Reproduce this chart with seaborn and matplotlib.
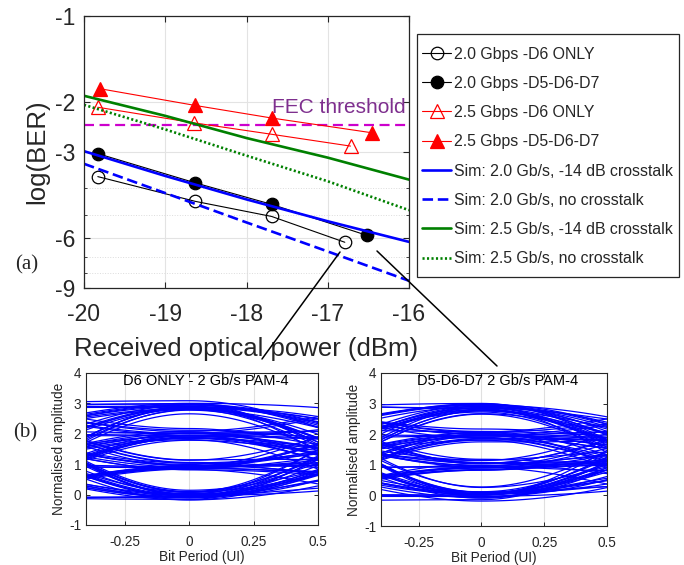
import numpy as np
import pandas as pd
import matplotlib
matplotlib.use("Agg")
import matplotlib.pyplot as plt
from matplotlib.lines import Line2D
from matplotlib.patches import Rectangle
import seaborn as sns

# ---------------- measured BER (log10) ----------------
x_d6_20 = [-19.83, -18.63, -17.69, -16.79]
y_d6_20 = [-3.66, -4.47, -5.05, -6.22]
x_d567_20 = [-19.83, -18.63, -17.69, -16.52]
y_d567_20 = [-3.04, -3.85, -4.58, -5.88]
x_d6_25 = [-19.83, -18.65, -17.69, -16.72]
y_d6_25 = [-2.09, -2.37, -2.60, -2.86]
x_d567_25 = [-19.80, -18.63, -17.69, -16.45]
y_d567_25 = [-1.80, -2.06, -2.28, -2.57]

# ---------------- simulated BER (log10) ----------------
sim_power = [-20, -19, -18, -17, -16]
sim_20_xt = [-2.98, -3.64, -4.40, -5.25, -6.20]
sim_20_noxt = [-3.30, -4.18, -5.30, -6.70, -8.49]
sim_25_xt = [-1.905, -2.24, -2.68, -3.14, -3.75]
sim_25_noxt = [-2.05, -2.50, -3.09, -3.80, -4.80]

fec_threshold = -2.42

ber_ticks = [-1, -2, -3, -6, -9]
ber_minor = [-4, -5, -7, -8]
power_ticks = [-20, -19, -18, -17, -16]

legend_labels = ["2.0 Gbps -D6 ONLY", "2.0 Gbps -D5-D6-D7",
                 "2.5 Gbps -D6 ONLY", "2.5 Gbps -D5-D6-D7",
                 "Sim: 2.0 Gb/s, -14 dB crosstalk", "Sim: 2.0 Gb/s, no crosstalk",
                 "Sim: 2.5 Gb/s, -14 dB crosstalk", "Sim: 2.5 Gb/s, no crosstalk"]

# ---------------- PAM-4 symbol streams for the eye diagrams ----------------
seq_d6 = [3, 0, 1, 2, 2, 0, 1, 3, 3, 0, 2, 1, 0, 0, 3, 2, 1, 1, 3, 0, 2, 3, 0, 1,
          2, 0, 3, 3, 1, 0, 1, 2, 3, 1, 0, 2, 2, 3, 0, 0, 1, 3, 2, 0, 1, 1, 2, 3,
          3, 2, 0, 3, 1, 1, 0, 2, 0, 3, 2, 2, 1, 0, 3, 0, 1, 2, 1, 3, 0, 2, 3, 3,
          0, 1, 0, 2, 1, 2, 0, 0, 2, 3, 1, 3, 2, 1, 0, 3, 3, 1, 2, 0, 2, 1, 1, 0]
seq_d567 = [1, 3, 0, 2, 0, 1, 3, 2, 2, 1, 0, 3, 1, 0, 2, 3, 3, 0, 0, 1, 2, 1, 3, 0,
            2, 2, 0, 1, 3, 1, 2, 0, 3, 0, 1, 1, 2, 3, 2, 0, 0, 3, 1, 2, 1, 0, 3, 3,
            0, 2, 1, 3, 2, 0, 1, 0, 2, 2, 3, 1, 0, 1, 3, 0, 3, 2, 1, 2, 0, 0, 2, 1,
            3, 3, 1, 0, 2, 3, 0, 1, 1, 2, 0, 3, 2, 1, 3, 0, 1, 0, 0, 2, 3, 2, 1, 3]
levels_d6 = [-0.08, 0.95, 2.0, 2.93]
levels_d567 = [0.0, 1.0, 1.98, 2.93]
# ISI taps: (2nd pre, 1st pre, 1st post, 2nd post)
taps_d6 = (0.035, 0.075, 0.055, 0.03)
taps_d567 = (0.035, 0.07, 0.055, 0.03)

TEXT = "#262626"
BLUE = "#0000FF"
GREEN = "#008000"
RED = "#FF0000"

plt.rcParams["axes.unicode_minus"] = False
sns.set_style("ticks")
plt.rcParams["font.family"] = ["Liberation Sans", "DejaVu Sans"]


def fwd(y):
    return -np.log10(np.clip(-np.asarray(y, dtype=float), 1e-6, None))


def inv(z):
    return -np.power(10.0, -np.asarray(z, dtype=float))


fig = plt.figure(figsize=(6.84, 5.65), dpi=100)
W, H = 684, 565


def rect(l, t, r, b):
    return [l / W, 1 - b / H, (r - l) / W, (b - t) / H]


ax = fig.add_axes(rect(84, 16, 409, 288))
ax.set_yscale("function", functions=(fwd, inv))

handles = []
meas = [
    (x_d6_20, y_d6_20, dict(color="k", marker="o", mfc="none", mec="k", ms=9)),
    (x_d567_20, y_d567_20, dict(color="k", marker="o", mfc="k", mec="k", ms=9)),
    (x_d6_25, y_d6_25, dict(color=RED, marker="^", mfc="none", mec=RED, ms=10)),
    (x_d567_25, y_d567_25, dict(color=RED, marker="^", mfc=RED, mec=RED, ms=10)),
]
for xs, ys, st in meas:
    sns.lineplot(x=xs, y=ys, ax=ax, lw=0.8, mew=0.9, sort=False, **st)
    handles.append(ax.lines[-1])

sims = [
    (sim_20_xt, dict(color=BLUE, lw=1.9, ls="-")),
    (sim_20_noxt, dict(color=BLUE, lw=1.9, dashes=(4, 1.8))),
    (sim_25_xt, dict(color=GREEN, lw=1.9, ls="-")),
    (sim_25_noxt, dict(color=GREEN, lw=1.9, dashes=(0.8, 0.9))),
]
for ys, st in sims:
    sns.lineplot(x=sim_power, y=ys, ax=ax, **st)
    handles.append(ax.lines[-1])

ax.axhline(fec_threshold, color="#CC00CC", lw=1.6, dashes=(4.5, 2.5), zorder=1.5)
ax.text(-16.04, -2.09, "FEC threshold", color="#7E2F8E", fontsize=15,
        ha="right", va="center")

ax.set_xlim(-20, -16)
ax.set_ylim(-9, -1)
ax.set_xticks(power_ticks)
ax.set_xticklabels([str(v) for v in power_ticks])
ax.set_yticks(ber_ticks)
ax.set_yticklabels([str(v) for v in ber_ticks])
ax.set_yticks(ber_minor, minor=True)
ax.set_yticklabels([], minor=True)
ax.grid(True, which="major", color="#e3e3e3", lw=0.8)
ax.grid(True, which="minor", axis="y", color="#dcdcdc", lw=0.7, ls=":")
ax.set_axisbelow(True)
ax.tick_params(axis="both", which="major", direction="in", length=4,
               labelsize=16.5, colors=TEXT, top=True, right=True, width=0.8)
ax.tick_params(axis="x", which="major", pad=11)
ax.tick_params(axis="y", which="major", pad=6)
ax.tick_params(axis="y", which="minor", direction="in", length=2.5,
               right=True, left=True, colors=TEXT)
for sp in ax.spines.values():
    sp.set_color(TEXT)
    sp.set_linewidth(0.9)
ax.set_xlabel("Received optical power (dBm)", fontsize=18.5, color=TEXT, labelpad=8)
ax.set_ylabel("log(BER)", fontsize=18.5, color=TEXT, labelpad=4)
if ax.get_legend() is not None:
    ax.get_legend().remove()

# legend box drawn as a fixed frame, entries placed inside it
fig.add_artist(Rectangle((417 / W, 1 - 277 / H), (679 - 417) / W, (277 - 34) / H,
                         transform=fig.transFigure, facecolor="white",
                         edgecolor=TEXT, lw=0.9, zorder=2))
leg = fig.legend(handles, legend_labels, loc="upper left",
                 bbox_to_anchor=(422 / W, 1 - 46.5 / H), fontsize=11.4,
                 frameon=False, handlelength=1.85, handletextpad=0.2,
                 labelspacing=0.9, borderpad=0, borderaxespad=0)
leg.set_zorder(3)

fig.text(26.5 / W, 1 - 265 / H, "(a)", fontsize=15, family="Liberation Serif",
         ha="center", va="center", color=TEXT)
fig.text(25 / W, 1 - 433 / H, "(b)", fontsize=15, family="Liberation Serif",
         ha="center", va="center", color=TEXT)

# zoom connectors from the measured points to the eye diagrams
fig.add_artist(Line2D([340 / W, 262 / W], [1 - 252 / H, 1 - 359 / H],
                      color="k", lw=1.1))
fig.add_artist(Line2D([377 / W, 497 / W], [1 - 251 / H, 1 - 366 / H],
                      color="k", lw=1.1))


def eye_frame(seq, levels, taps, xt, xt_gain):
    sym = np.array(seq, dtype=float)
    c = sym - 1.5
    samp = np.array([levels[s] for s in seq], dtype=float)
    pre2, pre1, post1, post2 = taps
    samp[2:] += pre2 * c[:-2]
    samp[1:] += pre1 * c[:-1]
    samp[:-1] += post1 * c[1:]
    samp[:-2] += post2 * c[2:]
    samp += xt_gain * (np.array(xt, dtype=float) - 1.5)
    t = np.linspace(-0.4, 0.5, 61)
    rows = []
    for k in range(1, len(seq) - 2):
        a, b, n, nn = samp[k - 1], samp[k], samp[k + 1], samp[k + 2]
        left = a + (b - a) * (1 - np.cos(np.pi * (t + 1))) / 2
        right = b + (n - b) * (1 - np.cos(np.pi * t)) / 2 + 0.8 * (nn - n) * t ** 2
        amp = np.where(t < 0, left, right)
        rows.append(pd.DataFrame({"t": t, "amp": amp, "trace": k}))
    return pd.concat(rows, ignore_index=True)


eyes = [
    (rect(86, 373, 318, 525),
     eye_frame(seq_d6, levels_d6, taps_d6, seq_d567[::-1], 0.03),
     "D6 ONLY - 2 Gb/s PAM-4"),
    (rect(381, 373, 607, 526),
     eye_frame(seq_d567, levels_d567, taps_d567, seq_d6[::-1], 0.06),
     "D5-D6-D7 2 Gb/s PAM-4"),
]
for pos, df, title in eyes:
    ex = fig.add_axes(pos)
    sns.lineplot(data=df, x="t", y="amp", units="trace", estimator=None,
                 color=BLUE, lw=0.9, ax=ex, legend=False)
    ex.set_xlim(-0.4, 0.5)
    ex.set_ylim(-1, 4)
    ex.set_xticks([-0.25, 0, 0.25, 0.5])
    ex.set_xticklabels(["-0.25", "0", "0.25", "0.5"])
    ex.set_yticks([-1, 0, 1, 2, 3, 4])
    ex.set_yticklabels(["-1", "0", "1", "2", "3", "4"])
    ex.grid(True, axis="x", color="#e0e0e0", lw=0.8)
    ex.set_axisbelow(True)
    ex.tick_params(direction="in", length=3, labelsize=9.8, colors=TEXT,
                   top=True, right=True, width=0.7)
    ex.tick_params(axis="x", pad=7)
    for sp in ex.spines.values():
        sp.set_color(TEXT)
        sp.set_linewidth(0.8)
    ex.set_xlabel("Bit Period (UI)", fontsize=9.8, color=TEXT, labelpad=1)
    ex.set_ylabel("Normalised amplitude", fontsize=9.8, color=TEXT, labelpad=2)
    ex.text(0.515, 0.945, title, transform=ex.transAxes, fontsize=10.5,
            ha="center", va="center", color="k")

fig.savefig("out.png", dpi=100)
